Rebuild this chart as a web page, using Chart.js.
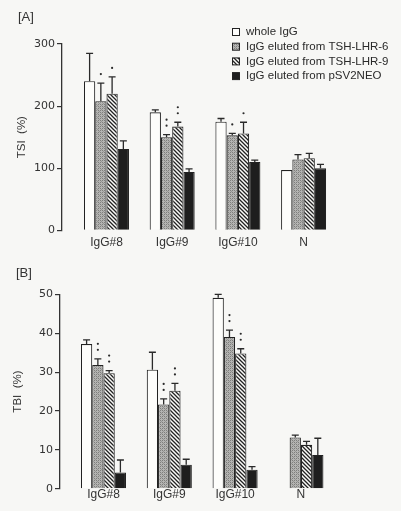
<!DOCTYPE html>
<html>
<head>
<meta charset="utf-8">
<script src="https://cdn.jsdelivr.net/npm/chart.js@4/dist/chart.umd.min.js"></script>
<style>
  html, body { margin: 0; padding: 0; background: #f7f7f5; }
  #wrap { position: relative; width: 401px; height: 511px; overflow: hidden; }
  .panel { position: absolute; left: 0; width: 401px; }
  .tag { position: absolute; font: 13px "Liberation Sans", Arial, sans-serif; color: #333; }
</style>
</head>
<body>
<div id="wrap">
  <div class="panel" style="top:0;height:256px"><canvas id="chartA" width="401" height="256"></canvas></div>
  <div class="panel" style="top:256px;height:255px"><canvas id="chartB" width="401" height="255"></canvas></div>
  <div class="tag" style="left:18px;top:9px">[A]</div>
  <div class="tag" style="left:16px;top:265px">[B]</div>
</div>
<script>
// ---- data ----
const groups = ["IgG#8", "IgG#9", "IgG#10", "N"];
const seriesNames = ["whole IgG", "IgG eluted from TSH-LHR-6", "IgG eluted from TSH-LHR-9", "IgG eluted from pSV2NEO"];

// [A] TSI (%)
const tsiWhole = [240, 190, 175, 97];
const tsiLhr6  = [208, 150, 153, 114];
const tsiLhr9  = [220, 167, 156, 116];
const tsiNeo   = [131, 94, 110, 100];
const tsiWholeErr = [45, 4, 5, 0];
const tsiLhr6Err  = [29, 4, 3, 8];
const tsiLhr9Err  = [27, 7, 18, 8];
const tsiNeoErr   = [13, 5, 3, 6];
const tsiTicks = [0, 100, 200, 300];

// [B] TBI (%)
const tbiWhole = [37.2, 30.6, 49.1, 0];
const tbiLhr6  = [31.8, 21.7, 39.0, 13.2];
const tbiLhr9  = [29.7, 25.2, 34.8, 11.3];
const tbiNeo   = [4.2, 6.2, 4.9, 8.7];
const tbiWholeErr = [1.1, 4.5, 0.9, 0];
const tbiLhr6Err  = [1.6, 1.4, 1.8, 0.6];
const tbiLhr9Err  = [0.7, 1.9, 1.2, 0.9];
const tbiNeoErr   = [3.2, 1.4, 0.8, 4.3];
const tbiTicks = [0, 10, 20, 30, 40, 50];

// significance dots above the error bars
const tsiMarks6 = [1, 2, 1, 0];
const tsiMarks9 = [1, 2, 1, 0];
const tbiMarks6 = [2, 2, 2, 0];
const tbiMarks9 = [2, 2, 2, 0];
const noMarks = [0, 0, 0, 0];

// ---- fills ----
function makePattern(kind) {
  const c = document.createElement("canvas");
  c.width = 4; c.height = 4;
  const g = c.getContext("2d");
  if (kind === "gray") {
    g.fillStyle = "#b4b4b2"; g.fillRect(0, 0, 4, 4);
    g.fillStyle = "#7e7e7c";
    g.fillRect(0, 0, 1, 1); g.fillRect(2, 2, 1, 1); g.fillRect(2, 0, 1, 1); g.fillRect(0, 2, 1, 1);
    g.fillStyle = "#969694";
    g.fillRect(1, 1, 1, 1); g.fillRect(3, 3, 1, 1);
  } else {
    g.fillStyle = "#fbfbf9"; g.fillRect(0, 0, 4, 4);
    g.strokeStyle = "#222"; g.lineWidth = 1.3;
    g.beginPath();
    g.moveTo(-1, -1); g.lineTo(5, 5);
    g.moveTo(-1, 3); g.lineTo(1, 5);
    g.moveTo(3, -1); g.lineTo(5, 1);
    g.stroke();
  }
  return g.createPattern(c, "repeat");
}
const fills = ["#fdfdfb", makePattern("gray"), makePattern("hatch"), "#1e1e1e"];

function makeSets(values, errs, marks) {
  return values.map((vals, s) => ({
    label: seriesNames[s],
    data: vals.map((v, i) => ({ x: i, y: v })),
    err: errs[s],
    marks: marks[s],
    backgroundColor: fills[s],
    borderColor: "#222",
    borderWidth: 1.1,
    categoryPercentage: 0.685,
    barPercentage: 1
  }));
}

// error bars + dots
const errorBars = {
  id: "errorBars",
  afterDatasetsDraw(chart) {
    const ctx = chart.ctx, y = chart.scales.y;
    ctx.save();
    ctx.strokeStyle = "#2a2a2a"; ctx.fillStyle = "#2a2a2a"; ctx.lineWidth = 1.3;
    chart.data.datasets.forEach((ds, di) => {
      chart.getDatasetMeta(di).data.forEach((bar, i) => {
        const e = ds.err[i];
        let top = bar.y;
        if (e > 0) {
          top = y.getPixelForValue(ds.data[i].y + e);
          ctx.beginPath();
          ctx.moveTo(bar.x, bar.y); ctx.lineTo(bar.x, top);
          ctx.moveTo(bar.x - 3.5, top); ctx.lineTo(bar.x + 3.5, top);
          ctx.stroke();
        }
        for (let k = 0; k < ds.marks[i]; k++) {
          ctx.beginPath();
          ctx.arc(bar.x, top - 9 - k * 6, 1.1, 0, Math.PI * 2);
          ctx.fill();
        }
      });
    });
    ctx.restore();
  }
};

const legendBox = {
  id: "legendBox",
  afterDraw(chart) {
    const ctx = chart.ctx;
    ctx.save();
    ctx.font = '11.5px "Liberation Sans", Arial, sans-serif';
    ctx.textBaseline = "middle";
    chart.data.datasets.forEach((ds, i) => {
      const cy = 32 + i * 14.7;
      ctx.fillStyle = ds.backgroundColor;
      ctx.fillRect(232, cy - 3.5, 7, 7);
      ctx.strokeStyle = "#222"; ctx.lineWidth = 1;
      ctx.strokeRect(232.5, cy - 3.5, 7, 7);
      ctx.fillStyle = "#2a2a2a";
      ctx.fillText(ds.label, 246, cy);
    });
    ctx.restore();
  }
};

function makeChart(id, o) {
  return new Chart(document.getElementById(id), {
    type: "bar",
    data: { datasets: o.sets },
    plugins: o.legend ? [errorBars, legendBox] : [errorBars],
    options: {
      responsive: false,
      animation: false,
      layout: { padding: o.padding },
      plugins: { legend: { display: false }, tooltip: { enabled: false } },
      scales: {
        x: {
          type: "linear", min: o.xMin, max: o.xMax, offset: false,
          grid: { display: false, drawTicks: false },
          border: { display: false },
          afterBuildTicks: s => { s.ticks = groups.map((g, i) => ({ value: i })); },
          ticks: {
            padding: o.labelPad, color: "#333", autoSkip: false, maxRotation: 0,
            font: { family: '"Liberation Sans", Arial, sans-serif', size: 12 },
            callback: v => groups[v] ?? ""
          }
        },
        y: {
          min: 0, max: o.yMax,
          afterFit: s => { s.width = o.axisX; },
          afterBuildTicks: s => { s.ticks = o.yTicks.map(v => ({ value: v })); },
          grid: { drawOnChartArea: false, tickLength: 5, color: "#333", lineWidth: 1.2 },
          border: { color: "#333", width: 1.3 },
          ticks: { padding: 2, color: "#333", font: { family: '"DejaVu Sans", sans-serif', size: 11 } },
          title: {
            display: true, text: o.yTitle, color: "#333",
            padding: { top: o.titlePad, bottom: 0 },
            font: { family: '"Liberation Sans", Arial, sans-serif', size: 11.5 }
          }
        }
      }
    }
  });
}

makeChart("chartA", {
  sets: makeSets([tsiWhole, tsiLhr6, tsiLhr9, tsiNeo],
                 [tsiWholeErr, tsiLhr6Err, tsiLhr9Err, tsiNeoErr],
                 [noMarks, tsiMarks6, tsiMarks9, noMarks]),
  legend: true,
  padding: { left: 0, top: 44, right: 61, bottom: 1.3 },
  xMin: -0.677, xMax: 3.554, labelPad: 5,
  yMax: 300, yTicks: tsiTicks, axisX: 62, yTitle: "TSI  (%)", titlePad: 15
});

makeChart("chartB", {
  sets: makeSets([tbiWhole, tbiLhr6, tbiLhr9, tbiNeo],
                 [tbiWholeErr, tbiLhr6Err, tbiLhr9Err, tbiNeoErr],
                 [noMarks, tbiMarks6, tbiMarks9, noMarks]),
  legend: false,
  padding: { left: 0, top: 38.3, right: 61, bottom: 9.8 },
  xMin: -0.661, xMax: 3.594, labelPad: -1,
  yMax: 50, yTicks: tbiTicks, axisX: 60, yTitle: "TBI  (%)", titlePad: 11.4
});
</script>
</body>
</html>
